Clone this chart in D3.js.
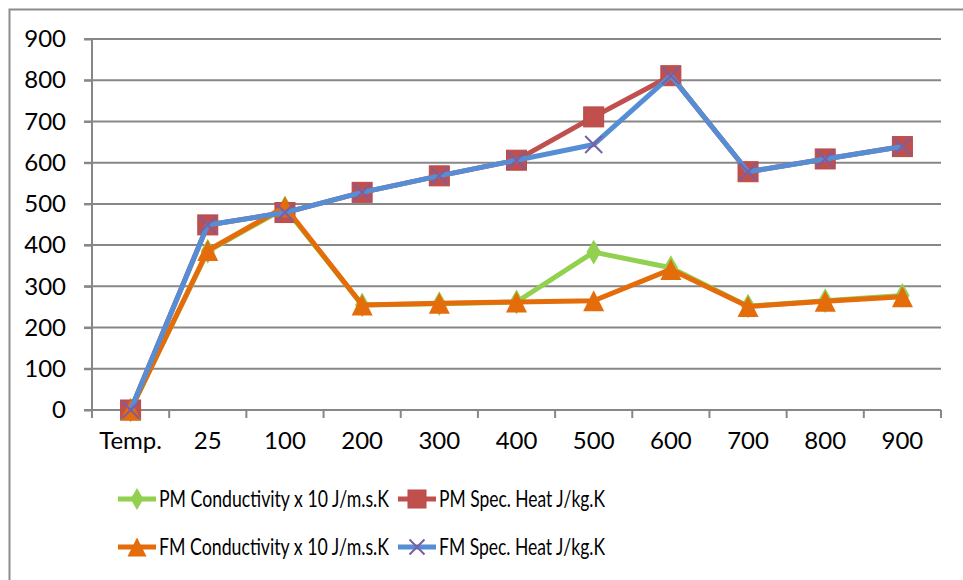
<!DOCTYPE html>
<html>
<head>
<meta charset="utf-8">
<script src="https://cdn.jsdelivr.net/npm/d3@7"></script>
<style>
  body { margin: 0; background: #fff; }
  svg { display: block; }
  text { font-family: Lato, "Open Sans", sans-serif; fill: #000; }
</style>
</head>
<body>
<script>
// chart data
const categories = ["Temp.", "25", "100", "200", "300", "400", "500", "600", "700", "800", "900"];
const pmConductivity = [0, 385, 490, 255, 258, 262, 383, 345, 252, 265, 278];
const fmConductivity = [0, 387, 493, 255, 259, 262, 265, 341, 251, 264, 275];
const pmSpecHeat = [0, 449, 479, 528, 568, 606, 711, 811, 578, 609, 639];
const fmSpecHeat = [0, 449, 479, 528, 568, 606, 644, 811, 578, 609, 639];
const yTicks = [0, 100, 200, 300, 400, 500, 600, 700, 800, 900];

const series = [
  { name: "PM Conductivity x 10 J/m.s.K", values: pmConductivity, color: "#92d050", marker: "diamond", mcolor: "#92d050" },
  { name: "PM Spec. Heat J/kg.K", values: pmSpecHeat, color: "#c0504d", marker: "square", mcolor: "#c0504d" },
  { name: "FM Conductivity x 10 J/m.s.K", values: fmConductivity, color: "#e46c0a", marker: "triangle", mcolor: "#e46c0a" },
  { name: "FM Spec. Heat J/kg.K", values: fmSpecHeat, color: "#558ed5", marker: "cross", mcolor: "#7c5ea2" }
];

const width = 963, height = 580;
const plotLeft = 92, plotRight = 941, plotTop = 39, plotBottom = 410;

const svg = d3.select("body").append("svg").attr("width", width).attr("height", height);

// outer frame (right and bottom sides run off the picture)
svg.append("rect").attr("x", 9.5).attr("y", 9.5).attr("width", 1000).attr("height", 1000)
  .attr("fill", "none").attr("stroke", "#8c8c8c").attr("stroke-width", 2);

const x = d3.scaleBand().domain(categories).range([plotLeft, plotRight]).padding(0);
const y = d3.scaleLinear().domain([0, 900]).range([plotBottom, plotTop]);
const cx = (d) => x(d) + x.bandwidth() / 2;

// gridlines
svg.append("g").selectAll("line").data(yTicks).enter().append("line")
  .attr("x1", plotLeft - 8).attr("x2", plotRight)
  .attr("y1", (d) => y(d)).attr("y2", (d) => y(d))
  .attr("stroke", "#878787").attr("stroke-width", 2);

// y axis
const yAxis = d3.axisLeft(y).tickValues(yTicks).tickSize(8).tickPadding(18);
const gy = svg.append("g").attr("transform", "translate(" + plotLeft + ",0)").call(yAxis);
gy.select(".domain").attr("stroke", "#878787").attr("stroke-width", 2).attr("d", "M0," + plotTop + "V" + (plotBottom + 8));
gy.selectAll(".tick line").attr("stroke", "#878787").attr("stroke-width", 2);
gy.selectAll(".tick text").attr("font-size", 24).attr("font-family", "Lato").attr("fill", "#000");

// x axis with ticks at band edges
const xAxis = d3.axisBottom(x).tickSize(0).tickPadding(22);
const gx = svg.append("g").attr("transform", "translate(0," + plotBottom + ")").call(xAxis);
gx.select(".domain").remove();
gx.selectAll(".tick text").attr("font-size", 24).attr("font-family", "Lato").attr("fill", "#000");
const edges = categories.map((c) => x(c)).concat([plotRight]);
svg.append("g").selectAll("line").data(edges).enter().append("line")
  .attr("x1", (d) => d).attr("x2", (d) => d)
  .attr("y1", plotBottom).attr("y2", plotBottom + 8)
  .attr("stroke", "#878787").attr("stroke-width", 2);

function drawMarker(g, type, color, size) {
  if (type === "diamond") {
    g.append("path").attr("d", d3.symbol(d3.symbolDiamond, size * size * 0.55)())
      .attr("fill", color);
  } else if (type === "square") {
    g.append("rect").attr("x", -size / 2).attr("y", -size / 2).attr("width", size).attr("height", size)
      .attr("fill", color).attr("stroke", "#b84a47").attr("stroke-width", 1);
  } else if (type === "triangle") {
    g.append("path").attr("d", "M0," + (-size / 2) + "L" + (size / 2) + "," + (size / 2) + "L" + (-size / 2) + "," + (size / 2) + "Z")
      .attr("fill", color);
  } else {
    const h = size / 2;
    g.append("path").attr("d", "M" + -h + "," + -h + "L" + h + "," + h + "M" + -h + "," + h + "L" + h + "," + -h)
      .attr("stroke", color).attr("stroke-width", 2).attr("fill", "none");
  }
}

const line = d3.line().x((d, i) => cx(categories[i])).y((d) => y(d));
const sizes = { diamond: 18, square: 20, triangle: 21, cross: 17 };

series.forEach((s) => {
  const g = svg.append("g");
  g.append("path").attr("d", line(s.values)).attr("fill", "none")
    .attr("stroke", s.color).attr("stroke-width", 5).attr("stroke-linejoin", "round");
  s.values.forEach((v, i) => {
    const m = g.append("g").attr("transform", "translate(" + cx(categories[i]) + "," + y(v) + ")");
    drawMarker(m, s.marker, s.mcolor, sizes[s.marker]);
  });
});

// legend
const legendPos = [
  { x: 118, y: 499, w: 230 }, { x: 398, y: 499, w: 166 },
  { x: 118, y: 547, w: 230 }, { x: 398, y: 547, w: 166 }
];
series.forEach((s, i) => {
  const p = legendPos[i];
  const g = svg.append("g").attr("transform", "translate(" + p.x + "," + p.y + ")");
  g.append("line").attr("x1", 0).attr("x2", 38).attr("y1", 0).attr("y2", 0)
    .attr("stroke", s.color).attr("stroke-width", 5);
  const m = g.append("g").attr("transform", "translate(19,0)");
  drawMarker(m, s.marker, s.mcolor, sizes[s.marker] - 2);
  g.append("text").attr("x", 41).attr("y", 0).attr("dy", "0.36em")
    .attr("font-size", 23).attr("textLength", p.w).attr("lengthAdjust", "spacingAndGlyphs")
    .text(s.name);
});
</script>
</body>
</html>
